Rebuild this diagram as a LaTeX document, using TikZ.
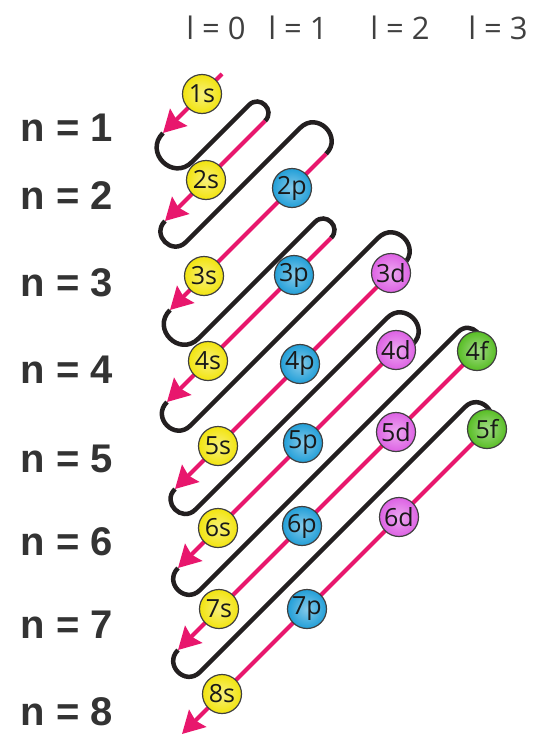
\documentclass[tikz,border=0pt]{standalone}
\usepackage{fontspec}
\setmainfont{Open Sans}
\newfontfamily\shellfont{Liberation Sans}
\usetikzlibrary{arrows.meta, calc}
\definecolor{cOrbS}{HTML}{F2E40F}
\definecolor{cOrbP}{HTML}{229FD8}
\definecolor{cOrbD}{HTML}{DD62E4}
\definecolor{cOrbF}{HTML}{58BE25}
\definecolor{cOrder}{HTML}{E8176D}
\definecolor{cWire}{HTML}{231F20}
\tikzset{
  orbital/.style={
    circle, draw=black!75, line width=1.2pt,
    inner color=#1!55!white, outer color=#1,
    minimum size=39pt, inner sep=0pt,
    text=black!90,
    font=\fontsize{25}{25}\selectfont
  },
  orderline/.style={
    draw=cOrder, line width=4pt,
    -{Stealth[length=22pt,width=24pt,inset=3pt]}
  },
  wire/.style={draw=cWire, line width=4.5pt},
  shelllabel/.style={
    font=\shellfont\bfseries\fontsize{40}{40}\selectfont,
    text=black!80, inner sep=0pt
  },
  sublabel/.style={
    font=\fontsize{31}{31}\selectfont,
    text=black!75, inner sep=0pt
  }
}

\begin{document}
\begin{tikzpicture}[x=1pt, y=-1pt]
  \fill[white] (0,0) rectangle (534,736);
  \useasboundingbox (0,0) rectangle (534,736);

  % start of each pink diagonal
  \coordinate (t1) at (222,74);
  \coordinate (t2) at (265,121);
  \coordinate (t3) at (326,154);
  \coordinate (t4) at (331,238);
  \coordinate (t5) at (391,273);
  \coordinate (t6) at (396,350);
  \coordinate (t7) at (477,351);
  \coordinate (t8) at (487,429);
  % arrow tips
  \coordinate (b1) at (163,133);
  \coordinate (b2) at (165,221);
  \coordinate (b3) at (170,310);
  \coordinate (b4) at (167,402);
  \coordinate (b5) at (175,489);
  \coordinate (b6) at (178,568);
  \coordinate (b7) at (178,650);
  \coordinate (b8) at (182,734);
  % where the black line ends at the top of a diagonal
  \coordinate (e2) at (t2);
  \coordinate (e3) at (t3);
  \coordinate (e4) at (t4);
  \coordinate (e5) at (404,264);
  \coordinate (e6) at (413,344);
  \coordinate (e7) at (t7);
  \coordinate (e8) at (t8);

  % black serpentine: turn at the tip, climb, turn into next diagonal
  \foreach \k/\nx/\db/\dt in {1/2/58/32, 2/3/42/52, 3/4/57/32, 4/5/47/52,
                              5/6/41/52, 6/7/44/38, 7/8/44/44} {
    \coordinate (p\k) at ($(b\k)+(\db/2,\db/2)$);
    \coordinate (q\k) at ($(e\nx)-(\dt/2,\dt/2)$);
    \draw[wire] (b\k) .. controls ($(b\k)+(-\db/3,\db/3)$) and ($(p\k)+(-\db/3,\db/3)$) .. (p\k)
      -- (q\k) .. controls ($(q\k)+(\dt/3,-\dt/3)$) and ($(e\nx)+(\dt/3,-\dt/3)$) .. (e\nx);
  }

  % pink diagonals
  \foreach \k in {1,...,8}
    \draw[orderline] (t\k) -- (b\k);

  % orbitals
  \foreach \name/\col/\x/\y in {1s/cOrbS/202/94, 2s/cOrbS/206/180, 2p/cOrbP/292/188,
      3s/cOrbS/204/276, 3p/cOrbP/294/275, 3d/cOrbD/391/273,
      4s/cOrbS/208/361, 4p/cOrbP/300/364, 4d/cOrbD/396/350, 4f/cOrbF/477/351,
      5s/cOrbS/218/446, 5p/cOrbP/303/443, 5d/cOrbD/396/432, 5f/cOrbF/487/429,
      6s/cOrbS/218/528, 6p/cOrbP/302/526, 6d/cOrbD/399/517,
      7s/cOrbS/219/609, 7p/cOrbP/307/609, 8s/cOrbS/222/694}
    \node[orbital=\col] (o\name) at (\x,\y) {\name};

  % shell labels
  \foreach \n/\y in {1/128, 2/196, 3/283, 4/370, 5/459, 6/542, 7/625, 8/712}
    \node[shelllabel] (n\n) at (67,\y) {n = \n};

  % subshell labels
  \foreach \l/\x in {0/216, 1/298, 2/400, 3/498}
    \node[sublabel] (l\l) at (\x,28) {l = \l};
\end{tikzpicture}
\end{document}
